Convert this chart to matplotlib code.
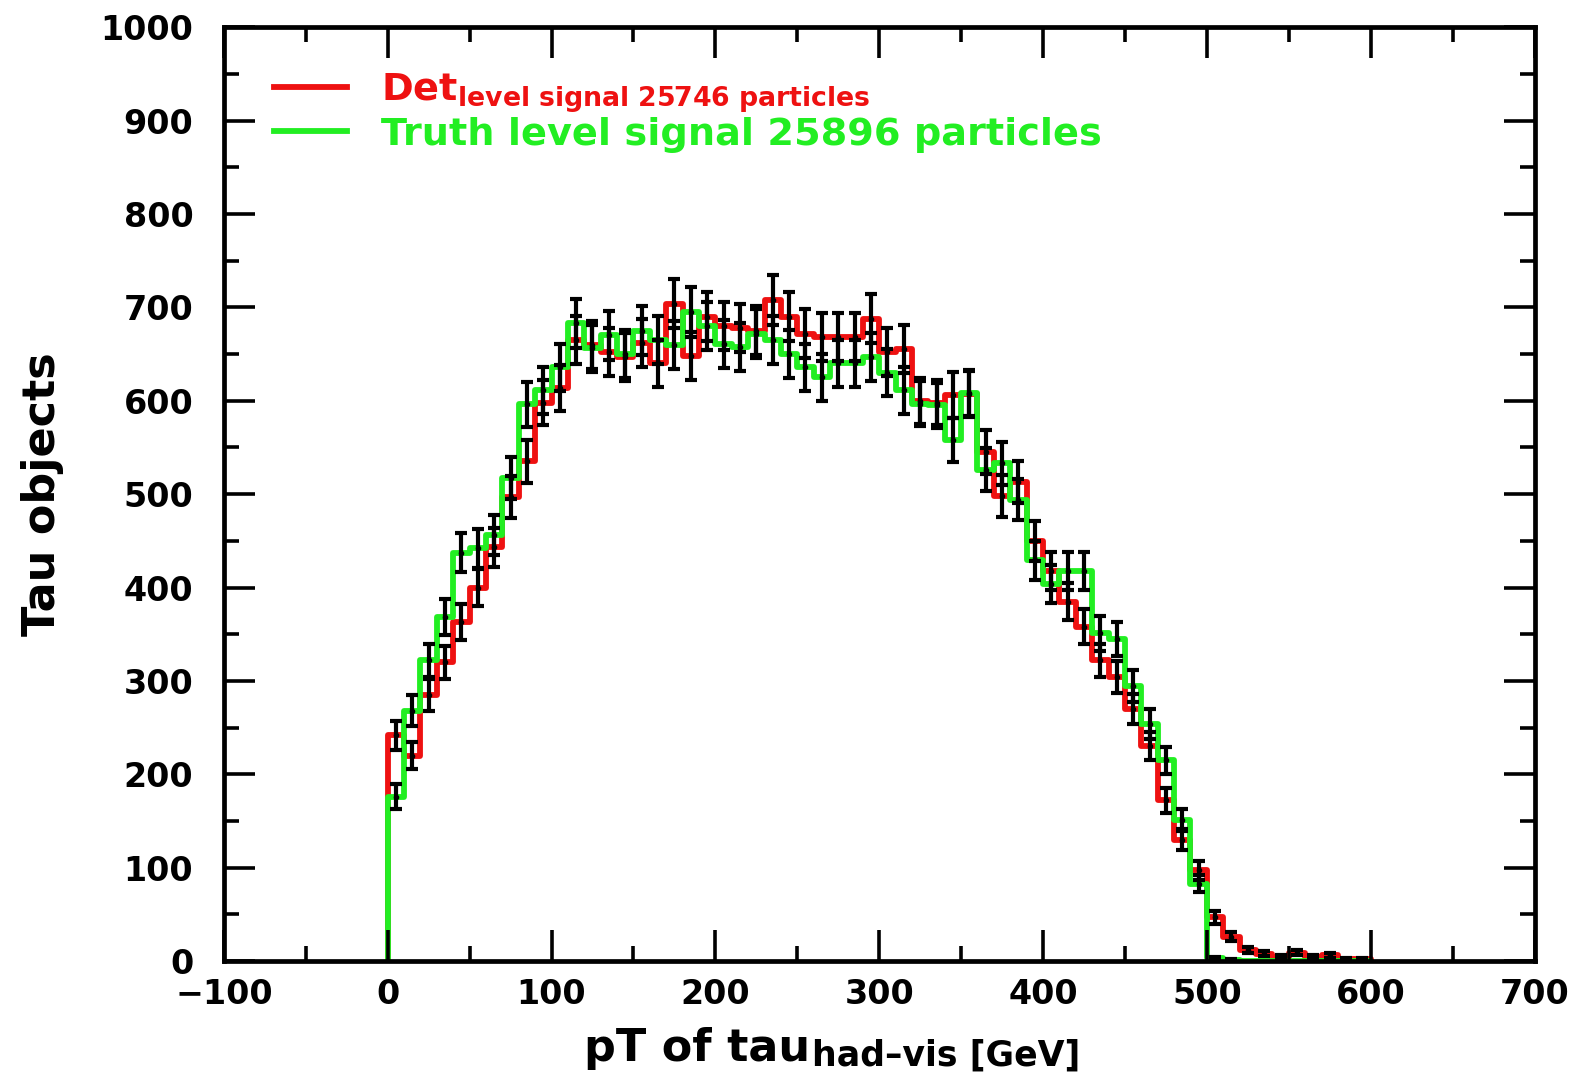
import numpy as np
import matplotlib
matplotlib.use("Agg")
import matplotlib.pyplot as plt
from matplotlib.ticker import MultipleLocator

plt.rcParams['font.family'] = ['DejaVu Sans']
plt.rcParams['mathtext.fontset'] = 'dejavusans'
plt.rcParams['mathtext.default'] = 'bf'

# 10 GeV bins from 0 to 600
edges = np.arange(0, 610, 10)

det_counts = [242, 220, 285, 320, 363, 400, 443, 497, 535, 598,
              614, 665, 660, 652, 647, 662, 640, 704, 648, 690,
              680, 678, 675, 708, 690, 672, 668, 668, 668, 688,
              652, 655, 600, 598, 606, 607, 545, 498, 513, 450,
              418, 385, 358, 322, 304, 270, 230, 172, 130, 97,
              47, 26, 12, 8, 4, 9, 4, 6, 2, 2]

truth_counts = [176, 268, 322, 368, 437, 442, 456, 517, 596, 611,
                636, 683, 656, 670, 650, 675, 665, 660, 695, 680,
                661, 658, 672, 665, 650, 636, 625, 640, 640, 647,
                630, 611, 597, 595, 558, 608, 526, 533, 494, 429,
                404, 418, 418, 351, 345, 294, 254, 215, 151, 83,
                3, 1, 0, 0, 0, 0, 0, 0, 0, 0]

det_label = r'Det$_{level\ signal\ 25746\ particles}$'
truth_label = 'Truth level signal 25896 particles'
red = '#ee1111'
green = '#22ee22'

fig = plt.figure(figsize=(15.81, 10.77), dpi=100)
ax = fig.add_axes([0.1416, 0.1077, 0.829, 0.867])

det = np.array(det_counts, dtype=float)
truth = np.array(truth_counts, dtype=float)
centers = 0.5 * (edges[:-1] + edges[1:])

s1 = ax.stairs(det, edges, baseline=0, color=red, linewidth=4.2, label=det_label)
s2 = ax.stairs(truth, edges, baseline=0, color=green, linewidth=4.2, label=truth_label)
for s in (s1, s2):
    s.set_joinstyle('round')
    s.set_capstyle('round')

# poisson error bars
for vals in (det, truth):
    m = vals > 0
    ax.errorbar(centers[m], vals[m], yerr=np.sqrt(vals[m]), fmt='.', color='black',
                ms=6, elinewidth=3.0, capsize=4.5, capthick=3.0, zorder=5)

ax.set_xlim(-100, 700)
ax.set_ylim(0, 1000)
ax.xaxis.set_major_locator(MultipleLocator(100))
ax.xaxis.set_minor_locator(MultipleLocator(50))
ax.yaxis.set_major_locator(MultipleLocator(100))
ax.yaxis.set_minor_locator(MultipleLocator(50))
ax.tick_params(which='both', direction='in', top=True, right=True, width=2.6)
ax.tick_params(which='major', length=22)
ax.tick_params(which='minor', length=11)
ax.tick_params(axis='y', which='major', labelsize=24, pad=22)
ax.tick_params(axis='x', which='major', labelsize=24, pad=12)
for lab in ax.get_xticklabels() + ax.get_yticklabels():
    lab.set_fontweight('bold')
for sp in ax.spines.values():
    sp.set_linewidth(3.4)

# x label: main part plus lowered smaller part
fig.text(810 / 1581, 1 - 1061 / 1077, 'pT of tau', ha='right', va='baseline',
         fontsize=32, fontweight='bold')
fig.text(812 / 1581, 1 - 1066 / 1077, 'had\u2013vis [GeV]', ha='left', va='baseline',
         fontsize=25, fontweight='bold')
ax.set_ylabel('Tau objects', fontsize=32, fontweight='bold', labelpad=26)

ax.legend(loc='upper left', bbox_to_anchor=(0.012, 0.99), frameon=False,
          handlelength=1.9, handletextpad=0.9, labelspacing=0.05,
          labelcolor='linecolor', prop={'weight': 'bold', 'size': 27.5})

fig.savefig('out.png', dpi=100)
